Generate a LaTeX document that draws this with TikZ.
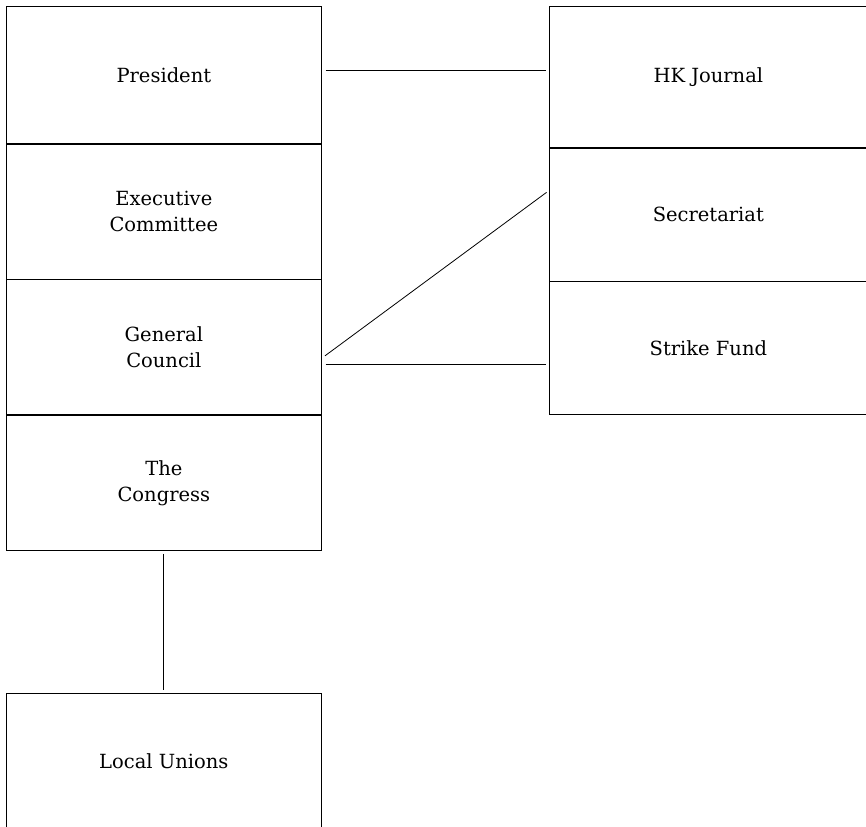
\documentclass[tikz,border=0pt]{standalone}
\usepackage{fontspec}
\setmainfont{DejaVu Serif}
\usepackage{tikz}
\usetikzlibrary{positioning}

\tikzset{
	orgbox/.style={draw, line width=.7pt, minimum width=315pt, minimum height=135pt,
		inner sep=0pt, align=center, font=\fontsize{19.5}{26}\selectfont},
	sidebox/.style={orgbox, minimum width=318pt, minimum height=133pt},
	link/.style={line width=.8pt, shorten <=4pt, shorten >=3pt}
}

\begin{document}
\begin{tikzpicture}[x=1pt,y=-1pt]

	\useasboundingbox (0,0) rectangle (866,826);

	% left column
	\node[orgbox, anchor=north west, minimum height=137pt] (pres) at (6,6) {President};
	\node[orgbox, below=0pt of pres] (exec) {Executive\\Committee};
	\node[orgbox, below=0pt of exec] (gen) {General\\Council};
	\node[orgbox, below=0pt of gen] (cong) {The\\Congress};

	\node[orgbox, anchor=north west, minimum height=136pt] (local) at (6,693) {Local Unions};

	% right column
	\node[sidebox, anchor=north west, minimum height=141pt] (hk) at (549,6) {HK Journal};
	\node[sidebox, below=0pt of hk] (sec) {Secretariat};
	\node[sidebox, below=0pt of sec] (strike) {Strike Fund};

	% connections
	\draw[link] ([yshift=4.5pt]pres.east) -- ([yshift=4.5pt]pres.east -| hk.west);
	\draw[link] ([yshift=-11pt]gen.east) -- ([yshift=24pt]sec.west);
	\draw[link] ([yshift=-17pt]gen.east) -- ([yshift=-17pt]gen.east -| strike.west);
	\draw[link, shorten <=3pt] (cong.south) -- (local.north);

\end{tikzpicture}
\end{document}
